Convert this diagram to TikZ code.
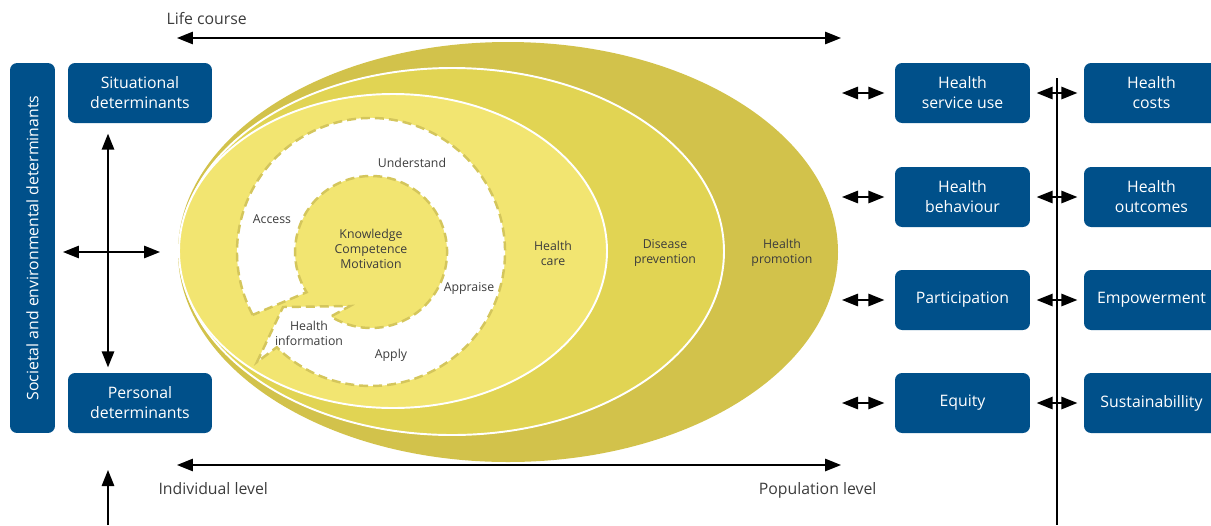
\documentclass[tikz,border=0pt]{standalone}
\usepackage{fontspec}
\setmainfont{Open Sans}
\usetikzlibrary{arrows.meta,positioning}
\definecolor{hlsblue}{HTML}{00508A}
\definecolor{promo}{HTML}{D2C24B}
\definecolor{prev}{HTML}{E1D453}
\definecolor{care}{HTML}{F2E571}
\definecolor{dashc}{HTML}{D4C65C}
\definecolor{txt}{HTML}{3C3C3C}

\begin{document}
\begin{tikzpicture}[x=0.02cm, y=-0.02cm,
  font=\fontsize{9}{11.4}\selectfont,
  >={Triangle[length=0.32cm,width=0.25cm]},
  line width=0.8pt,
  box/.style={fill=hlsblue, rounded corners=4pt, text=white, align=center, inner sep=0pt, minimum height=1.2cm},
  label/.style={font=\fontsize{7}{8.5}\selectfont, text=txt, align=center},
  band/.style={draw=white, line width=1.1pt}]

\useasboundingbox (0,0) rectangle (1211,525);

% ellipses
\fill[promo] (508,252) ellipse [x radius=330, y radius=210];
\filldraw[fill=prev, band] (452,251.5) ellipse [x radius=272, y radius=183.5];
\filldraw[fill=care, band] (393,251) ellipse [x radius=214, y radius=157];

% ring with speech tail
\filldraw[fill=white, draw=dashc, line width=1.4pt, dash pattern=on 0.18cm off 0.1cm]
  (252.7,314.9) arc[start angle=152, end angle=494.7, radius=134]
  -- (257,362) -- (283,307) -- (350,306) -- (330.9,316.5)
  arc[start angle=121.9, end angle=-212, radius=76] -- cycle;

\node[label] (kcm) at (371,249) {Knowledge\\Competence\\Motivation};
\node[label] (und) at (412,163) {Understand};
\node[label] (acc) at (272,219) {Access};
\node[label] (app) at (469,288) {Appraise};
\node[label] (apl) at (391,355) {Apply};
\node[label] (hin) at (309,333) {Health\\information};
\node[label] (hc)  at (553,253) {Health\\care};
\node[label] (dp)  at (665,253) {Disease\\prevention};
\node[label] (hp)  at (782,253) {Health\\promotion};

% left boxes
\node[box, rotate=90, minimum width=7.4cm, minimum height=0.9cm] (soc) at (32.5,248) {Societal and environmental determinants};
\node[box, minimum width=2.88cm] (sit) at (140,93) {Situational\\determinants};
\node[box, minimum width=2.88cm] (per) at (140,403) {Personal\\determinants};

% right boxes
\node[box, minimum width=2.7cm] (o1) at (962.5,93) {Health\\service use};
\node[box, minimum width=2.7cm] (o2) at (962.5,197) {Health\\behaviour};
\node[box, minimum width=2.7cm] (o3) at (962.5,300) {Participation};
\node[box, minimum width=2.7cm] (o4) at (962.5,403) {Equity};
\node[box, minimum width=2.7cm] (r1) at (1151.5,93) {Health\\costs};
\node[box, minimum width=2.7cm] (r2) at (1151.5,197) {Health\\outcomes};
\node[box, minimum width=2.7cm] (r3) at (1151.5,300) {Empowerment};
\node[box, minimum width=2.7cm] (r4) at (1151.5,403) {Sustainabillity};

% axes
\coordinate (lc1) at (177,38);
\coordinate (lc2) at (841,38);
\coordinate (lv1) at (177,465);
\coordinate (lv2) at (841,465);
\draw[<->] (lc1) -- (lc2);
\draw[<->] (lv1) -- (lv2);
\node[anchor=west, text=txt] (lc) at (160,19) {Life course};
\node[anchor=west, text=txt] (il) at (152,489) {Individual level};
\node[anchor=east, text=txt] (pl) at (883,490) {Population level};

% left arrows
\coordinate (hl) at (63,252);
\coordinate (hr) at (160,252);
\draw[<->] (hl) -- (hr);
\draw[<->, shorten <=0.2cm, shorten >=0.1cm] ([xshift=-0.64cm]sit.south) -- ([xshift=-0.64cm]per.north);
\coordinate (ub) at (108,525);
\coordinate (ut) at (108,470);
\draw[->] (ub) -- (ut);

% right arrows
\coordinate (vt) at (1057,78);
\coordinate (vb) at (1057,525);
\draw (vt) -- (vb);
\foreach \i/\y in {1/93,2/197,3/300,4/403} {
  \coordinate (in\i) at (842,\y);
  \draw[<->, shorten >=0.2cm] (in\i) -- (o\i);
  \draw[<->, shorten <=0.12cm, shorten >=0.12cm] (o\i) -- (r\i);
}

\end{tikzpicture}
\end{document}
